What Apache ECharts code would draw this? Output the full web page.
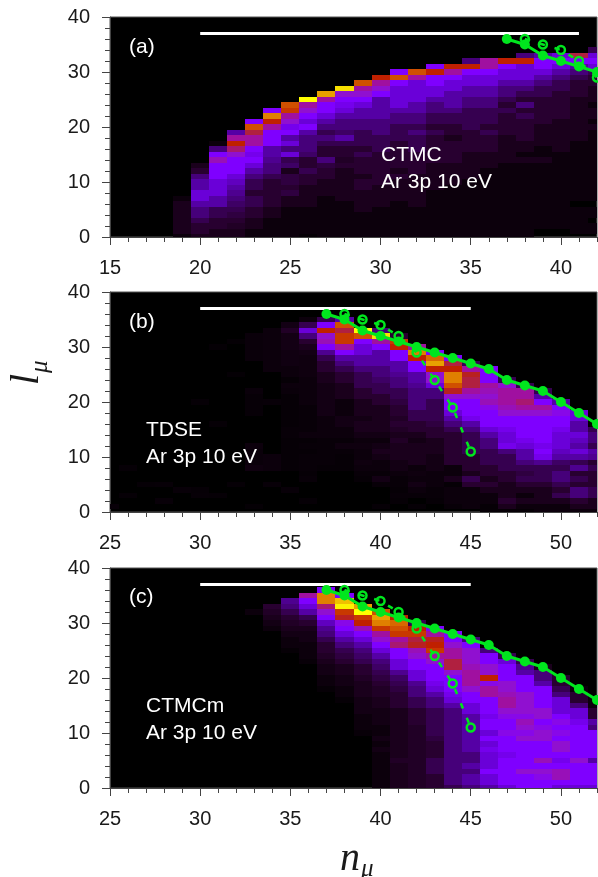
<!DOCTYPE html>
<html><head><meta charset="utf-8">
<style>html,body{margin:0;padding:0;background:#fff}#c{width:598px;height:877px}</style>
<script src="https://cdn.jsdelivr.net/npm/echarts@6/dist/echarts.min.js"></script>
</head><body><div id="c"></div>
<script>
// intensity levels (0 black .. 16 yellow); each column lists l = 0,1,2,... upward
const firstNA = 19;
const columnsA = [
[1,2,2,2,2,2,2,1],
[2,3,3,4,5,5,6,7,7,6,6,5,3,2],
[2,2,3,3,4,4,6,6,7,7,7,8,8,8,9.5,8,5,1],
[2,2,2.5,3,3.5,4,4.5,5,5.5,6,6.5,7,8,8,8,9,10.5,12,10,6],
[1,1,2,2,3,3,4,4,3,4,4,5,6,7,8,7.5,8,10,10,11,13,8],
[1,1,1,1,2,2,3,3,3,3,3,4,5,5,5.5,6,6,8,8,8,10,12,14,8],
[1,1,1,1,1,1,2,2,3.5,3,3.5,3.5,2,4.5,4,7,5,7,6,8,7.5,9,10,12.5,13],
[0.5,1,1,1,1,1,2,2,2,2,3,3,4,3,3,4.5,5,5,5,6,8,7,8,9,10,16],
[1,1,1,1,1,1,1,1,2,2,2,3,3,3.5,5,3,3,4,5,4,5,6,7,8,8,10,14.5],
[1,1,1,1,1,1,1,2,2,2,2,2,2,3,2.5,3,3,4,6,4.5,5,5,6,7,7.5,8,9,15.5],
[1,1,1,1,1,2,2,2,2,3,3,2,3,3,3,4,3,4,4,4,5,5,6,6,7,8,9,10,13],
[1,1,1,1,1,1,2,2,2,2,3,3,3,3,3,3,4,4,4,5,5,5,6,6,6,6,8,9,10,12],
[1,1,1,1,1,1,1,2,2,2,2,3,2,3,3,3,3,3,4,4,4,5,5,6,7,7,7,7,8,13,8],
[1,1,1,1,1,1,2,2,2,2,2,2,3,3,3,3,4,4,4,5,4,5,5,6,6,7,7,7,7,10,13],
[1,1,1,1,1,1,1,1,1,2,2,2,2,2,3,3,3,3,3,4,3,4,4,5,5,6,7,7,8,8,12,8],
[1,1,1,1,1,1,1,1,1,1,2,2,2,2,3,3,3,3,2,3,3,4,4,5,6,6,6,7,7,8,10,12],
[1,1,1,1,1,1,1,1,1,1,1,2,2,2,2,2,3,3,3,3,4,4,4,4,5,5,6,6,7,7,8,12,5],
[1,1,1,1,1,1,1,1,1,1,1,1,1,2,2,2,3,3,3,4,3,4,4,4,5,5,6,6,7,7,8,10,10],
[1,1,1,1,1,1,1,1,1,1,1,1,1,1,2,2,2,2,2,3,3,3,3,4,3,4,5,5,6,7,7,8,12],
[1,1,1,1,1,1,1,1,1,1,1,1,1,1,2,1,2,2,3,3,3,3,4,3,5,3,4,5,6,7,7,7,12,5],
[0,0,1,1,1,1,1,1,1,1,1,1,1,1,2,1,1,2,2,2,2,3,3,3,3,3,4,4,5,6,7,8,8,6],
[0,0,1,1,1,1,1,1,1,1,1,1,1,1,1,1,2,2,2,2,2,2,3,3,3,3,3,4,4,5,6,7,8,7],
[0,1,1,1,1,1,0,1,1,1,1,1,1,1,1,1,1,1,2,2,2,2,2,2,2,2,3,3,3,4,5,6,8,11],
[0,1,1,0,1,1,0,1,1,1,1,1,1,1,1,1,1,1,1,1,2,1,2,2,1,2,2,2,3,3,4,7,8,7,4]
];
const firstNB = 25;
const columnsB = [
[0,0.7],
[0,0,0,0.5,0,0,0,0,0.5],
[0,0,0,0,0,0.5],
[0,0,0.7,0,0,0.6],
[0,0,0,0,0.7],
[0,0,0,0.6,0.5,0,0,0,0,0,0,0,0,0,0,0,0,0,0,0,0.5],
[0,0,0,0.5,0,0,0,0,0,0,0,0,0,0,0,0,0.5,0,0,0,0,0,0,0,0,0,0,0,0,0,0.4],
[0,0,0,0,0,0.5,0,0,0,0,0,0,0,0,0,0,0,0,0,0,0,0,0,0,0,0.4,0,0,0,0,0,0.4],
[0,0.4,0,0,0,0,0,0,1.2,0.8,0.8,0.8,1,0,0,0,0,0,0.6,0.6,0.6,0.6,0.8,0,0,0,0,0,0.8,0.8,0.8,0.8,0.8],
[0,0,0,0,0,0.7,0,0,1,1,1,0,0,0,0,0,0,0,0,0,0.7,0,0,0,0,0,1,1,1,1,1,1,1,1],
[0,0,0,0,0.7,0,0,0,0.5,0.5,0.5,0.5,0.5,0.5,0.7,0.7,0.5,0.5,0.5,0.5,0.5,0.5,0.8,1,0.5,1,1,1.3,1.3,1.3,1.5,1.5,1.5,2.5,1.5],
[0,0,0.5,0,0,0,0.7,0.5,0.7,0.7,0.7,0.5,0.7,0.5,1,0.7,0.7,0.7,0.7,0.7,1,1,1,1,1,1.2,1.2,1.2,1.2,1.5,2,3,5,7,4,1],
[0,0,0,0,0,0,0,0,0.5,0.7,0.7,0.7,0.7,0.7,1,1,1,1,1.5,1.5,1.5,1.5,1.5,1.5,2,2,3,3,4,5.5,8,9.5,9,12,8,4],
[0,0,0,0,0,0,0,0,0.5,0.5,0.5,0.7,1.2,0.7,1,1,1.5,1.5,1,1,1,2,2,2,3,3,4,5,6,8,10,12.5,12.5,11,13,6],
[0,0,0,0,0,0,0.5,0.7,1,1.2,1,1,1.2,1,1.5,2,2,1.5,2,2,2,3,3,4,4,4,5,6,6,7,7,8,13,16],
[0,0.5,0,0,0,0.7,1.5,0.7,1,1,1.5,2,1.5,1,1.5,2,2,2,2,2,3,3,4,4,4.5,5,5,6,6,6,8,10,15.5,5],
[0,0,0.5,0.7,0.5,0.7,0.7,1,1.5,1.5,2,2,2,2.5,2,2.5,3,2.5,3,3,3.5,4,4,5,5,5.5,6,6,8,8,12,12.5,3],
[0,0.5,0,0.7,1,1.5,1,1.2,1,2,2,2,2,1.5,2,3,3,4,4,5,5,5,5,5.5,6,6,8,8,12,14,10],
[0,0,0.5,0.7,0.7,1,1,1,1.5,1.5,1.5,2,2,2,3,3,3.5,4,4,4,4,5,5,7,9,9,12,14.5,13.5,8],
[0,0.7,1,1,1,0.5,2,1,1,3,3,3,3,3,3,4,5,6,7,8,8,9,11.5,13,14,14,12,11,8],
[0,1,1,1,1,3,4,2,3,3,3,4,4,4,4,5,6,7.5,8,8,8,9,10,11,11,11.5,10,4],
[0.5,0.5,1,1,2,3,2,3,3,4,4,4,5,5,6,7,8,8,8,8.5,9.5,9,9.5,10,8,8,8],
[0.5,2,3,2,2,2,3,3,4,4,4,5,7.5,7,7,7.5,8,8,9,9.5,10,10,10,9,4],
[0.5,1,2,1,2,3,4,3.5,4,5,6,6,7,7.5,8,8,8,8,9,10,10.5,10,10,4],
[1,1,2,2,2,3,4,4,4,5.5,7.5,8,7.5,8,8,8,8,8,9,10,8,6,4],
[1,1,2,4,3,4,5,5,4,4.5,6,6.5,7,7,7,7.5,8,8,8.5,8,6],
[1,2,3,5,5,3,4,3,5.5,4,6,7,6,6.5,7,6,6,7,7],
[1,2,2,4,4,3,3,3,4,3,5.5,6,4,5,5,4]
];
const firstNC = 33;
const columnsC = [
[0,0,0,0,0,0,0,0,0,0,0,0,0,0,0,0,0,0,0,0,0,0,0,0,0,0,0,0,0,0,0,0,1],
[0,0,0,0,0,0,0,0,0,0,0,0,0,0,0,0,0,0,0,0,0,0,0,0,0,0,0,0,0,1,1.5,2,2.5,3],
[0,0,0,0,0,0,0,0,0,0,0,0,0,0,0,0,0,0,0,0,0,0,0,0,0,0.5,1,1,1.5,2,2.5,3,4,5,5.5],
[0,0,0,0,0,0,0,0,0,0,0,0,0,0,0,0,0,0,0,0,0,0,0,0.7,1,1,1,1.5,1.5,2,3,4,6,7,8,10],
[0,0,0,0,0,0,0,0,0,0,0,0,0,0,0,0,0,0,0.5,1,1,1.5,1.5,2,2.5,3,3,4,5,5.5,6.5,8,9,10.5,14,14,8],
[0,0,0,0,0,0,0,0,0,0,0,0,0,0,0,0,0.5,1,1,1.5,1.5,2,2,3,3.5,4,5,6,7,8,8.5,11.5,12.5,15.8,15,8],
[0,0,0,0,0,0,0,0,0,0,0.7,1,1,1,1.5,1.5,1.5,2,2,2,2.5,3,3,4,4.5,5,6,7,8,9.5,12,12.5,16,14.5],
[1,1,1,1,1,1,1,1.5,1,1.5,1,1,1.5,1.5,1.5,2,2,2.5,2.5,3,3.5,4,4.5,5,6,7,8,9,10,12.5,14,14.5,13],
[2,2,2,2,2,2.5,2,2,2,2,2,2,2,2,2,3,3,3,3.5,4,4.5,5.5,7,7,8,8,10.5,10,12.5,13,13.5,12],
[2.5,2.5,2.5,2.5,2.5,2.5,2.5,2.5,2.5,2.5,2.5,2.5,3,3,3,4,4,5,5,5.5,7,7,8,8,9,9.5,11.5,11,12.5,12,4],
[3,3,3,4,4,4,3,3,3,3.5,4,4,4,4,4,5,5,6,7,7.5,8,8,8,9,10,12.5,12,11.5,10,8],
[4,5,5,5,5,5,5,5,5,5,5,5,5,5,5,6,7,7.5,8,8,8,9,11,11,10,10,9,8,8],
[5,6,6,5,6,5,5,6,6,6,6,6,6,6,7,7,8,8,9,10,10,10,9.5,9,9,9,8,5],
[6,7,7,8,7,7,7,7.5,7,8,7,8,8,7.5,8,8,8,10,10,8.5,12,9,9,8,8,5],
[7,8,8,8,8,8,7.5,8,8,8,8.5,8,8,8.5,9,10,10,9.5,9,9,8,8,8,7,4],
[8,8,8,9,8,8,8,8,8,9,8.5,9,9.5,8.5,9,9,9,9,8,8,8,6,5.5,4],
[8,8,8.5,9,8,9.5,8,8,8,9,9,8.5,8,9,9,8,8,8,8,6,5,5,2],
[7,8,9.5,9.5,8,7.5,8,9,9,8,8.5,8,8.5,8,7,7,7,5,4,3,3],
[7,8,8,8,8,9,8,8,8,8,8,8,7.5,7,7,5,3,3,1],
[7,8,8,8,8,6,8,8,8,8,8,5,6,3,3,1,1]
];
const soloN = [37,38,39,40,41,42,43,44,45,46,47,48,49,50,51,52];
const soloL = [36,35,33,32,31,30,29,28,27,26,24,23,22,20,18,16];
const dashN = [38,39,40,41,42,43,44,45];
const dashL = [36,35,34,32,29,24,19,11];
const barA = [[20,37],[41,37]];
const barBC = [[30,37],[45,37]];
const xRanges = [[15,42],[25,52],[25,52]];
const xMajor = [[15,20,25,30,35,40],[25,30,35,40,45,50],[25,30,35,40,45,50]];
const yLabels = [0,10,20,30,40];
const palette = ['#000000','#0c000c','#1a001c','#280030','#360050','#46007a','#5500a5','#6a00d8','#7f00ff','#9010d0','#a010a0','#b02040','#c02000','#d05000','#e08000','#f0c000','#ffff00'];
const tops = [17,292,568];
const tickColor = '#444';
const textColor = '#1a1a1a';
const labelFont = {fontFamily:'Liberation Sans',fontSize:20,color:textColor};
const green = '#00e61e';

function cells(first, cols){
  const out=[];
  cols.forEach((c,i)=>c.forEach((v,l)=>{ if(v>0) out.push([first+i,l,v]); }));
  return out;
}
function renderCell(params, api){
  const n=api.value(0), l=api.value(1);
  const a=api.coord([n-0.5,l+0.5]), b=api.coord([n+0.5,l-0.5]);
  const cs=params.coordSys;
  const x0=Math.round(a[0]), x1=Math.round(b[0]), y0=Math.round(a[1]), y1=Math.round(b[1]);
  const shape=echarts.graphic.clipRectByRect({x:x0,y:y0,width:x1-x0,height:y1-y0},
    {x:cs.x,y:cs.y,width:cs.width,height:cs.height});
  if(!shape) return null;
  return {type:'rect',shape,style:{fill:api.visual('color')}};
}
const grids=[],xAxes=[],yAxes=[],series=[];
const data=[cells(firstNA,columnsA),cells(firstNB,columnsB),cells(firstNC,columnsC)];
const bars=[barA,barBC,barBC];
tops.forEach((top,i)=>{
  grids.push({left:110,width:487,top,height:220,show:true,backgroundColor:'#000',borderColor:'#555',borderWidth:1});
  // primary axes: minor-length ticks, labels
  xAxes.push({type:'value',gridIndex:i,min:xRanges[i][0],max:xRanges[i][1],interval:1,position:'bottom',
    splitLine:{show:false},axisLine:{onZero:false,lineStyle:{color:tickColor}},
    axisTick:{length:5,lineStyle:{color:tickColor}},
    axisLabel:Object.assign({customValues:xMajor[i],margin:21},labelFont)});
  yAxes.push({type:'value',gridIndex:i,min:0,max:40,interval:2,position:'left',
    splitLine:{show:false},axisLine:{onZero:false,lineStyle:{color:tickColor}},
    axisTick:{length:5,lineStyle:{color:tickColor}},
    axisLabel:Object.assign({customValues:yLabels,margin:20,padding:[3,0,0,0]},labelFont)});
  // companion axes: major-length ticks only
  xAxes.push({type:'value',gridIndex:i,min:xRanges[i][0],max:xRanges[i][1],interval:5,position:'bottom',
    splitLine:{show:false},axisLine:{show:false,onZero:false},
    axisTick:{length:8,customValues:xMajor[i],lineStyle:{color:tickColor}},axisLabel:{show:false}});
  yAxes.push({type:'value',gridIndex:i,min:0,max:40,interval:10,position:'left',
    splitLine:{show:false},axisLine:{show:false,onZero:false},
    axisTick:{length:8,lineStyle:{color:tickColor}},axisLabel:{show:false}});
  const xi=i*2, yi=i*2;
  series.push({type:'custom',xAxisIndex:xi,yAxisIndex:yi,data:data[i],renderItem:renderCell,
    encode:{x:0,y:1},silent:true,z:1,animation:false});
  series.push({type:'line',xAxisIndex:xi,yAxisIndex:yi,data:bars[i],symbol:'none',z:3,
    lineStyle:{color:'#fff',width:3},silent:true,animation:false});
  series.push({type:'line',xAxisIndex:xi,yAxisIndex:yi,data:dashN.map((n,k)=>[n,dashL[k]]),z:4,
    symbol:'circle',symbolSize:8,showAllSymbol:true,
    itemStyle:{color:'rgba(0,0,0,0)',borderColor:green,borderWidth:2.5},
    lineStyle:{color:green,width:2.5,type:[5.5,10]},silent:true,animation:false});
  series.push({type:'line',xAxisIndex:xi,yAxisIndex:yi,data:soloN.map((n,k)=>[n,soloL[k]]),z:5,
    symbol:'circle',symbolSize:10,showAllSymbol:true,
    itemStyle:{color:green,borderWidth:0},
    lineStyle:{color:green,width:3},silent:true,animation:false});
});
function txt(text,x,y,color,font,extra){
  return Object.assign({type:'text',z:50,x,y,style:{text,fill:color,font,textAlign:'left',textVerticalAlign:'middle'}},extra||{});
}
const note='21px "Liberation Sans"';
const math='italic 40px "Liberation Serif"';
const mathSub='italic 25px "Liberation Serif"';
const graphics=[
  txt('(a)',129,47,'#fff',note), txt('CTMC',381,155,'#fff',note), txt('Ar 3p 10 eV',381,182,'#fff',note),
  txt('(b)',129,322,'#fff',note), txt('TDSE',146,430,'#fff',note), txt('Ar 3p 10 eV',146,457,'#fff',note),
  txt('(c)',129,597,'#fff',note), txt('CTMCm',146,706,'#fff',note), txt('Ar 3p 10 eV',146,733,'#fff',note),
  txt('n',340,859,textColor,math), txt('μ',361,869,textColor,mathSub),
  txt('l',27,385,textColor,math,{rotation:Math.PI/2}), txt('μ',40,373,textColor,mathSub,{rotation:Math.PI/2})
];
const chart=echarts.init(document.getElementById('c'),null,{renderer:'canvas'});
chart.setOption({animation:false,backgroundColor:'#fff',
  visualMap:{show:false,type:'continuous',min:0,max:16,dimension:2,
    seriesIndex:[0,4,8],inRange:{color:palette}},
  grid:grids,xAxis:xAxes,yAxis:yAxes,series,graphic:{elements:graphics}});
</script></body></html>
